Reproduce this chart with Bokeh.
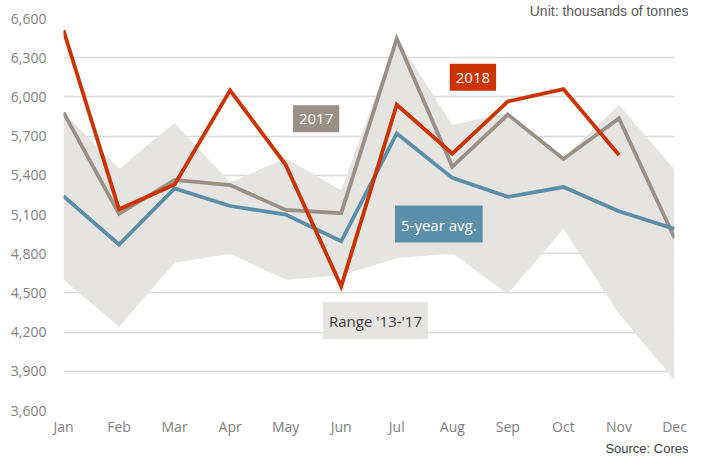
from bokeh.plotting import figure
from bokeh.models import Range1d, FixedTicker, NumeralTickFormatter, Label, Title
from bokeh.embed import file_html
from bokeh.resources import INLINE

months = ["Jan", "Feb", "Mar", "Apr", "May", "Jun", "Jul", "Aug", "Sep", "Oct", "Nov", "Dec"]
y2018 = [6510, 5140, 5330, 6050, 5480, 4550, 5940, 5565, 5965, 6060, 5555]
y2017 = [5880, 5105, 5365, 5325, 5135, 5110, 6445, 5465, 5865, 5525, 5835, 4920]
avg5 = [5240, 4870, 5300, 5165, 5100, 4895, 5720, 5380, 5235, 5310, 5125, 4990]
range_hi = [5880, 5450, 5800, 5345, 5530, 5285, 6450, 5785, 5880, 5530, 5940, 5445]
range_lo = [4600, 4240, 4730, 4800, 4600, 4635, 4765, 4805, 4490, 4990, 4340, 3830]
y_ticks = list(range(3600, 6601, 300))

xs = list(range(len(months)))

RED = "#cc3300"
TAUPE = "#9b9085"
BLUE = "#5b8ea9"
AREA = "#e6e4e1"

p = figure(width=688, height=455, output_backend="svg", toolbar_location=None,
           x_range=Range1d(0, 11), y_range=Range1d(3600, 6600),
           min_border_left=63, min_border_right=14, min_border_top=17, min_border_bottom=0)
p.outline_line_color = None
p.background_fill_color = "white"
p.border_fill_color = "white"

p.title.text = "Unit: thousands of tonnes"
p.title.align = "right"
p.title.text_font = "Liberation Sans"
p.title.text_font_style = "normal"
p.title.text_font_size = "14px"
p.title.text_color = "#595959"
p.title.standoff = 0
p.title.offset = -14

p.varea(x=xs, y1=range_lo, y2=range_hi, color=AREA)
p.line(xs, y2017, line_color=TAUPE, line_width=3.8, line_join="miter")
p.line(xs, avg5, line_color=BLUE, line_width=3.8, line_join="miter")
p.line(xs[:len(y2018)], y2018, line_color=RED, line_width=3.8, line_join="miter")

p.xgrid.grid_line_color = None
p.ygrid.grid_line_color = "#d9d9d9"
p.ygrid.grid_line_width = 1.5
p.ygrid.ticker = FixedTicker(ticks=y_ticks)

p.yaxis.ticker = FixedTicker(ticks=y_ticks)
p.yaxis.formatter = NumeralTickFormatter(format="0,0")
p.xaxis.ticker = FixedTicker(ticks=xs)
p.xaxis.major_label_overrides = {i: m for i, m in enumerate(months)}

for ax in (p.xaxis[0], p.yaxis[0]):
    ax.axis_line_color = None
    ax.major_tick_line_color = None
    ax.minor_tick_line_color = None
    ax.major_tick_out = 0
    ax.major_tick_in = 0
    ax.minor_tick_out = 0
    ax.minor_tick_in = 0
    ax.major_label_text_font = "Open Sans"
    ax.major_label_text_font_size = "14px"
    ax.major_label_text_color = "#808080"
p.yaxis.major_label_standoff = 17
p.xaxis.major_label_standoff = 6

p.add_layout(Title(text="Source: Cores", align="right", text_font="Liberation Sans",
                   text_font_style="normal", text_font_size="13px", text_color="#404040",
                   standoff=0, offset=-14), "below")

def box_label(x, y, text, bg, fg):
    p.add_layout(Label(x=x, y=y, text=text, text_align="center", text_baseline="middle",
                       text_font="Open Sans", text_font_size="15px", text_color=fg,
                       background_fill_color=bg, background_fill_alpha=1.0,
                       padding=dict(left=6, right=6, top=9, bottom=8)))

box_label(4.547, 5832, "2017", TAUPE, "white")
box_label(7.371, 6151, "2018", RED, "white")
box_label(6.757, 5027, "5-year avg.", BLUE, "white")
box_label(5.617, 4288, "Range '13-'17", AREA, "#404040")

open("out.html", "w").write(file_html(p, INLINE))
